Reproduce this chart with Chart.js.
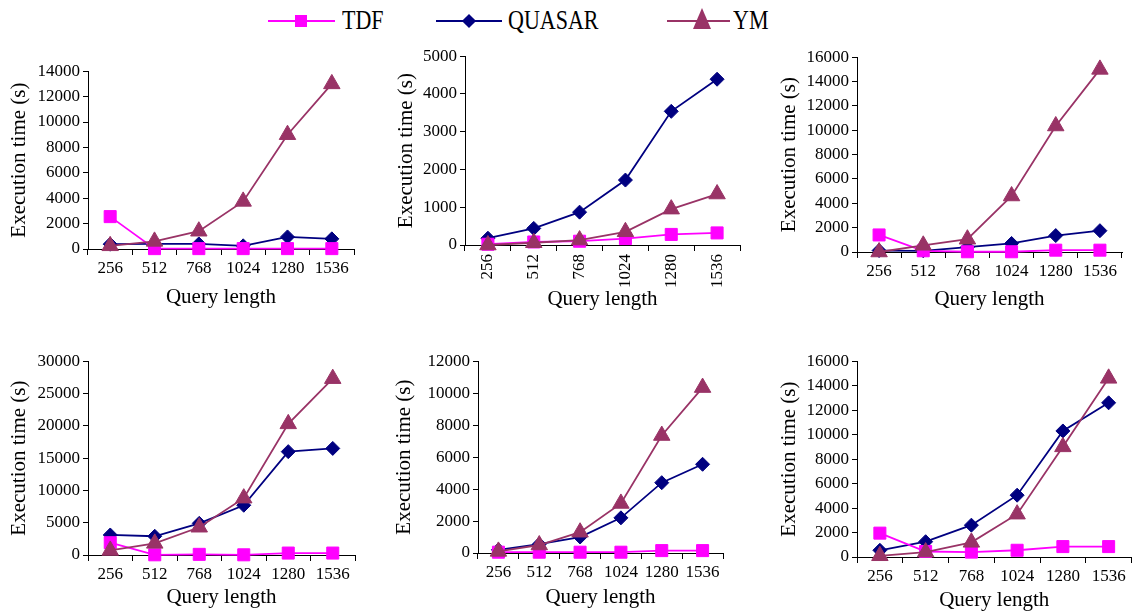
<!DOCTYPE html>
<html>
<head>
<meta charset="utf-8">
<script src="https://cdn.jsdelivr.net/npm/chart.js@4.4.1/dist/chart.umd.min.js"></script>
<style>
    html, body { margin: 0; padding: 0; background: #fff; }
    body { width: 1142px; height: 614px; position: relative; overflow: hidden; font-family: 'Liberation Serif', 'DejaVu Serif', serif; }
    .panel { position: absolute; }
    .lg { position: absolute; }
    .lg-line { height: 2px; top: 20px; }
    .lg-text { top: 4px; font-family: 'Liberation Serif', serif; font-size: 22px; line-height: 32px; color: #000; transform: scaleY(1.22); transform-origin: left center; }
</style>
</head>
<body>

<!-- legend shared by all six panels -->
<div class="lg lg-line" style="left:268px;width:67px;background:#ff00ff"></div>
<div class="lg" style="left:295px;top:15px;width:12px;height:12px;background:#ff00ff"></div>
<div class="lg lg-text" style="left:342px">TDF</div>

<div class="lg lg-line" style="left:436px;width:66px;background:#000080"></div>
<div class="lg" style="left:464px;top:16px;width:10px;height:10px;background:#000080;transform:rotate(45deg)"></div>
<div class="lg lg-text" style="left:508px">QUASAR</div>

<div class="lg lg-line" style="left:667px;width:63px;background:#993366"></div>
<div class="lg" style="left:693px;top:8px;width:0;height:0;border-left:9px solid transparent;border-right:9px solid transparent;border-bottom:21px solid #993366"></div>
<div class="lg lg-text" style="left:733px">YM</div>

<script>
// Execution time (s) vs query length, six panels (row by row, left to right)
const categories = ['256', '512', '768', '1024', '1280', '1536'];

const tdfTimes = [
    [2550, 30, 30, 30, 30, 30],
    [20, 80, 100, 170, 280, 320],
    [1400, 100, 20, 20, 150, 150],
    [1900, 30, 100, 30, 300, 300],
    [50, 50, 50, 50, 150, 150],
    [1950, 450, 400, 550, 850, 850],
];

const quasarTimes = [
    [380, 400, 400, 250, 950, 800],
    [180, 440, 870, 1720, 3540, 4390],
    [120, 100, 400, 700, 1350, 1750],
    [3100, 2900, 4900, 7700, 16000, 16500],
    [200, 550, 1000, 2200, 4400, 5550],
    [550, 1250, 2600, 5050, 10300, 12600],
];

const ymTimes = [
    [250, 600, 1400, 3750, 9000, 13000],
    [0, 60, 130, 350, 950, 1350],
    [0, 550, 1050, 4600, 10350, 15000],
    [700, 1800, 4300, 8800, 20300, 27300],
    [100, 500, 1300, 3100, 7350, 10350],
    [100, 400, 1200, 3500, 9000, 14600],
];

const yMax  = [14000, 5000, 16000, 30000, 12000, 16000];
const yStep = [2000, 1000, 2000, 5000, 2000, 2000];

// where each panel sits on the page (px)
const panelBoxes = [
    { titleX: 20,  axisX: 88,  right: 354,  top: 70,  zero: 249, xTitleY: 297, rotate: false },
    { titleX: 407, axisX: 465, right: 740,  top: 55,  zero: 245, xTitleY: 299, rotate: true },
    { titleX: 790, axisX: 857, right: 1122, top: 56,  zero: 252, xTitleY: 299, rotate: false },
    { titleX: 20,  axisX: 88,  right: 355,  top: 360, zero: 555, xTitleY: 597, rotate: false },
    { titleX: 405, axisX: 478, right: 723,  top: 360, zero: 553, xTitleY: 597, rotate: false },
    { titleX: 790, axisX: 857, right: 1140, top: 360, zero: 557, xTitleY: 600, rotate: false },
];

Chart.defaults.font.family = "'Liberation Serif', 'DejaVu Serif', serif";
Chart.defaults.color = '#000';

function series(label, data, color, style, radius, order) {
    return {
        label,
        data,
        borderColor: color,
        backgroundColor: color,
        borderWidth: 1.8,
        pointStyle: style,
        pointRadius: radius,
        pointBorderWidth: 1,
        pointBorderColor: color,
        pointBackgroundColor: color,
        tension: 0,
        clip: false,
        order,
    };
}

function makePanel(i) {
    const g = panelBoxes[i];
    const cl = Math.round(g.titleX - 12.6);
    const ct = g.top - 12;
    const cr = Math.min(g.right + 12, 1142);
    const cb = Math.round(g.xTitleY + 12.6);

    const canvas = document.createElement('canvas');
    canvas.className = 'panel';
    canvas.width = cr - cl;
    canvas.height = cb - ct;
    canvas.style.left = cl + 'px';
    canvas.style.top = ct + 'px';
    document.body.appendChild(canvas);

    new Chart(canvas.getContext('2d'), {
        type: 'line',
        data: {
            labels: categories,
            datasets: [
                series('TDF', tdfTimes[i], '#ff00ff', 'rect', 8.5, 1),
                series('QUASAR', quasarTimes[i], '#000080', 'rectRot', 7, 2),
                series('YM', ymTimes[i], '#993366', 'triangle', 9.5, 0),
            ],
        },
        options: {
            responsive: false,
            animation: false,
            events: [],
            layout: { padding: { top: g.top - ct, right: cr - g.right, left: 0, bottom: 0 } },
            plugins: { legend: { display: false }, tooltip: { enabled: false } },
            scales: {
                x: {
                    offset: true,
                    afterFit: s => { s.height = cb - g.zero; },
                    grid: { offset: true, drawOnChartArea: false, tickLength: 6, color: '#000' },
                    border: { display: true, color: '#000', width: 1 },
                    ticks: {
                        autoSkip: false,
                        padding: 3,
                        minRotation: g.rotate ? 90 : 0,
                        maxRotation: g.rotate ? 90 : 0,
                        font: { size: 17 },
                    },
                    title: { display: true, text: 'Query length', font: { size: 21 }, padding: 0 },
                },
                y: {
                    min: 0,
                    max: yMax[i],
                    afterFit: s => { s.width = g.axisX - cl; },
                    grid: { drawOnChartArea: false, tickLength: 5, color: '#000' },
                    border: { display: true, color: '#000', width: 1 },
                    ticks: { stepSize: yStep[i], padding: 3, font: { size: 17 }, callback: v => String(v) },
                    title: { display: true, text: 'Execution time (s)', font: { size: 21 }, padding: 0 },
                },
            },
        },
    });
}

panelBoxes.forEach((_, i) => makePanel(i));
</script>
</body>
</html>
